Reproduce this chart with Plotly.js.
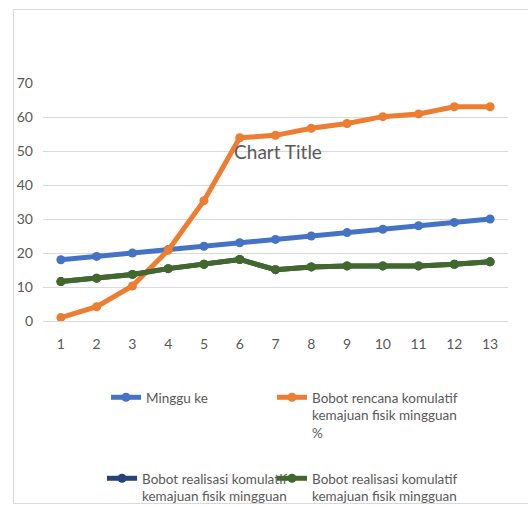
<!DOCTYPE html>
<html>
<head>
<meta charset="utf-8">
<script src="https://cdn.plot.ly/plotly-3.0.1.min.js"></script>
<style>
html,body{margin:0;padding:0;background:#fff;width:528px;height:506px;overflow:hidden;}
#frame{position:absolute;left:13px;top:9px;width:540px;height:493px;border:1px solid #d9d9d9;overflow:hidden;background:#fff;}
#chart{position:absolute;left:0;top:0;width:600px;height:560px;}
</style>
</head>
<body>
<div id="frame"><div id="chart"></div></div>
<script>
const categories = ['1','2','3','4','5','6','7','8','9','10','11','12','13'];
const mingguKe = [18,19,20,21,22,23,24,25,26,27,28,29,30];
const rencana = [1.0,4.2,10.3,20.8,35.4,53.9,54.6,56.7,58.1,60.1,60.9,63.0,63.0];
const realisasiA = [11.6,12.6,13.7,15.4,16.7,18.1,15.1,15.9,16.2,16.2,16.2,16.7,17.4];
const realisasiB = [11.6,12.6,13.7,15.4,16.7,18.1,15.1,15.9,16.2,16.2,16.2,16.7,17.4];
const seriesNames = [
  'Minggu ke',
  'Bobot rencana komulatif<br>kemajuan fisik mingguan<br>%',
  'Bobot realisasi komulatif<br>kemajuan fisik mingguan<br>%',
  'Bobot realisasi komulatif<br>kemajuan fisik mingguan<br>%'
];
const yTicks = [0,10,20,30,40,50,60,70];

const FONT = 'Lato, "Open Sans", sans-serif';
function tr(y, name, color, legend){
  return {x: categories, y: y, name: name, type: 'scatter', mode: 'lines+markers',
    line: {color: color, width: 5, shape: 'linear'},
    marker: {color: color, size: 9, symbol: 'circle'},
    legend: legend};
}
const data = [
  tr(mingguKe, seriesNames[0], '#4472C4', 'legend'),
  tr(rencana, seriesNames[1], '#ED7D31', 'legend2'),
  tr(realisasiB, seriesNames[2], '#264478', 'legend3'),
  tr(realisasiA, seriesNames[3], '#43682B', 'legend4')
];
const W = 600, H = 560;
function leg(px, py){
  return {orientation: 'h', xref: 'container', yref: 'container', xanchor: 'left', yanchor: 'top',
    x: px / W, y: 1 - py / H, valign: 'top', bgcolor: 'rgba(0,0,0,0)',
    font: {family: FONT, size: 13.5, color: '#595959'}, itemclick: false};
}
const layout = {
  width: W, height: H,
  margin: {l: 29, r: W - 494, t: 73, b: H - 311, autoexpand: false},
  paper_bgcolor: '#fff', plot_bgcolor: '#fff',
  font: {family: FONT, color: '#595959'},
  title: {text: 'Chart Title', xref: 'container', yref: 'container', x: 264 / W, y: 1 - 142 / H,
    xanchor: 'center', yanchor: 'middle', font: {family: FONT, size: 19, color: '#595959'}},
  xaxis: {type: 'category', range: [-0.5, 12.5], showgrid: false, zeroline: false, showline: false, automargin: false,
    ticks: '', tickfont: {family: FONT, size: 14, color: '#595959'}, ticklabelstandoff: 13, fixedrange: true},
  yaxis: {range: [0, 70], tickvals: yTicks, ticktext: yTicks.map(String), showgrid: true, gridcolor: '#d9d9d9', gridwidth: 1,
    zeroline: true, zerolinecolor: '#d9d9d9', zerolinewidth: 1, showline: false, ticks: '', automargin: false,
    tickfont: {family: FONT, size: 14, color: '#595959'}, ticklabelstandoff: 9, fixedrange: true},
  showlegend: true,
  legend: leg(92, 372),
  legend2: leg(258, 372),
  legend3: leg(88, 453),
  legend4: leg(258, 453)
};
Plotly.newPlot('chart', data, layout, {displayModeBar: false, staticPlot: true});
</script>
</body>
</html>
